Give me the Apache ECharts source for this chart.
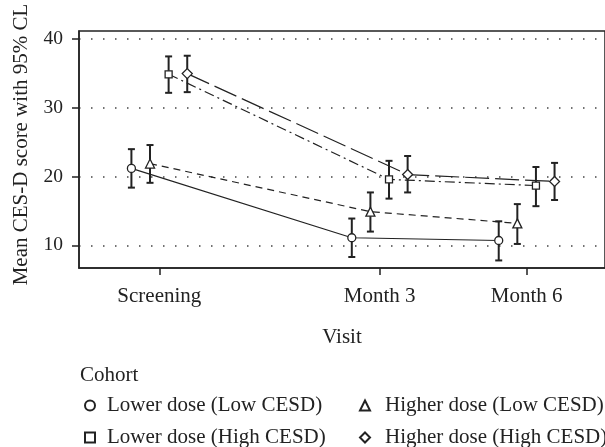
<!DOCTYPE html>
<html>
<head>
<meta charset="utf-8">
<script src="https://cdn.jsdelivr.net/npm/echarts@6/dist/echarts.min.js"></script>
<style>html,body{margin:0;padding:0;background:#fff}#c{width:605px;height:447px}</style>
</head>
<body>
<div id="c"></div>
<script>
// ---- data ----
const visits = ['Screening', 'Month 3', 'Month 6'];
const visitPos = [0, 4.5, 7.5];
const yTicks = [10, 20, 30, 40];
const cohortNames = ['Lower dose (Low CESD)', 'Higher dose (Low CESD)', 'Lower dose (High CESD)', 'Higher dose (High CESD)'];
const lowLowMean  = [21.2, 11.1, 10.7];
const lowLowLo    = [18.4, 8.3, 7.8];
const lowLowHi    = [24.0, 13.9, 13.5];
const highLowMean = [21.9, 14.9, 13.2];
const highLowLo   = [19.1, 12.0, 10.2];
const highLowHi   = [24.6, 17.7, 16.0];
const lowHighMean = [34.9, 19.6, 18.7];
const lowHighLo   = [32.2, 16.8, 15.7];
const lowHighHi   = [37.5, 22.3, 21.4];
const highHighMean= [35.0, 20.3, 19.3];
const highHighLo  = [32.3, 17.7, 16.6];
const highHighHi  = [37.6, 23.0, 22.0];

// ---- styling ----
const FONT = 'Liberation Serif';
const FS = 21;
const FSN = 19.5;
const INK = '#222';
const dodge = [-0.57, -0.19, 0.19, 0.57];
const means = [lowLowMean, highLowMean, lowHighMean, highHighMean];
const los = [lowLowLo, highLowLo, lowHighLo, highHighLo];
const his = [lowLowHi, highLowHi, lowHighHi, highHighHi];
const symbols = ['circle', 'triangle', 'rect', 'diamond'];
const symSizes = [8, 9, 7, 10];
const dashes = ['solid', [7, 5], [10, 4, 2, 4], [24, 6]];

const series = [];
// error bars
for (let i = 0; i < 4; i++) {
  series.push({
    type: 'custom',
    name: cohortNames[i] + ' CI',
    z: 2,
    silent: true,
    encode: { x: 0, y: [1, 2] },
    data: visitPos.map((p, j) => [p + dodge[i], los[i][j], his[i][j]]),
    renderItem: function (params, api) {
      const x = api.value(0);
      const top = api.coord([x, api.value(2)]);
      const bot = api.coord([x, api.value(1)]);
      const w = 3.5;
      const st = { stroke: INK, lineWidth: 2 };
      return {
        type: 'group',
        children: [
          { type: 'line', shape: { x1: top[0], y1: top[1], x2: bot[0], y2: bot[1] }, style: st },
          { type: 'line', shape: { x1: top[0] - w, y1: top[1], x2: top[0] + w, y2: top[1] }, style: st },
          { type: 'line', shape: { x1: bot[0] - w, y1: bot[1], x2: bot[0] + w, y2: bot[1] }, style: st }
        ]
      };
    }
  });
}
// mean lines
for (let i = 0; i < 4; i++) {
  series.push({
    type: 'line',
    name: cohortNames[i],
    z: 3,
    data: visitPos.map((p, j) => [p + dodge[i], means[i][j]]),
    symbol: symbols[i],
    symbolSize: symSizes[i],
    showAllSymbol: true,
    lineStyle: { color: INK, width: 1.2, type: dashes[i] },
    itemStyle: { color: '#fff', borderColor: INK, borderWidth: 1.3 },
    emphasis: { disabled: true },
    animation: false
  });
}

const legendPos = [
  { left: 84, top: 395, pad: 7 },
  { left: 359, top: 395, pad: 10 },
  { left: 84, top: 427, pad: 7 },
  { left: 359, top: 427, pad: 10 }
];
const legends = cohortNames.map((n, i) => ({
  data: [{ name: n, icon: symbols[i] }],
  left: legendPos[i].left,
  top: legendPos[i].top,
  padding: 0,
  itemWidth: 10,
  itemHeight: 10,
  selectedMode: false,
  textStyle: { fontFamily: FONT, fontSize: FS, color: INK, padding: [0, 0, 0, legendPos[i].pad] }
}));

const chart = echarts.init(document.getElementById('c'), null, { renderer: 'canvas' });
chart.setOption({
  animation: false,
  backgroundColor: '#fff',
  title: {
    text: 'Cohort', left: 80, top: 365, padding: 0,
    textStyle: { fontFamily: FONT, fontSize: FS, fontWeight: 'normal', color: INK }
  },
  legend: legends,
  grid: {
    left: 79, right: -4, top: 31, bottom: 179,
    show: true, borderColor: INK, borderWidth: 1.5, backgroundColor: 'transparent'
  },
  xAxis: {
    type: 'value',
    min: -1.64, max: 9.1,
    name: 'Visit',
    nameLocation: 'middle',
    nameGap: 59,
    nameTextStyle: { fontFamily: FONT, fontSize: FS, color: INK, verticalAlign: 'top' },
    axisLine: { show: true, onZero: false, lineStyle: { color: INK, width: 1.5 } },
    axisTick: { show: true, length: 7, lineStyle: { color: INK, width: 1.5 }, customValues: visitPos },
    axisLabel: {
      customValues: visitPos,
      margin: 18,
      fontFamily: FONT, fontSize: FS, color: INK,
      formatter: v => { const k = visitPos.findIndex(p => Math.abs(p - v) < 1e-6); return k >= 0 ? visits[k] : ''; }
    },
    splitLine: { show: false }
  },
  yAxis: {
    type: 'value',
    min: 6.7, max: 41.2,
    name: 'Mean CES-D score with 95% CL',
    nameLocation: 'middle',
    nameGap: 47,
    nameTextStyle: { fontFamily: FONT, fontSize: FS, color: INK, padding: [0, 0, 0, 10] },
    axisLine: { show: true, onZero: false, lineStyle: { color: INK, width: 1.5 } },
    axisTick: { show: true, length: 7, lineStyle: { color: INK, width: 1.5 }, customValues: yTicks },
    axisLabel: { customValues: yTicks, margin: 16, fontFamily: FONT, fontSize: FSN, color: INK },
    splitLine: { show: true, lineStyle: { color: '#444', width: 1.5, type: [1.5, 10.5] } }
  },
  series: series
});
</script>
</body>
</html>
